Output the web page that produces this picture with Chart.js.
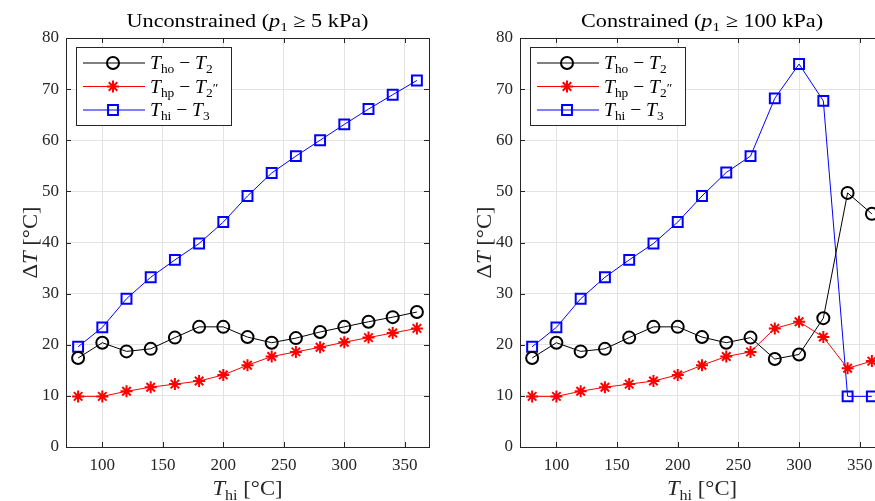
<!DOCTYPE html>
<html>
<head>
<meta charset="utf-8">
<script src="https://cdn.jsdelivr.net/npm/chart.js@4.4.1/dist/chart.umd.min.js"></script>
<style>
  html, body { margin: 0; padding: 0; background: #fff; overflow: hidden; }
  #wrap { position: relative; width: 875px; height: 501px; overflow: hidden; }
  canvas { position: absolute; top: 0; }
  #left { left: 0; }
  #right { left: 454px; }
</style>
</head>
<body>
<div id="wrap">
  <canvas id="left" width="450" height="501"></canvas>
  <canvas id="right" width="450" height="501"></canvas>
</div>
<script>
// x values (T_hi, degC)
const tHi = [80, 100, 120, 140, 160, 180, 200, 220, 240, 260, 280, 300, 320, 340, 360];
const xTicks = [100, 150, 200, 250, 300, 350];
const yTicks = [0, 10, 20, 30, 40, 50, 60, 70, 80];

// Unconstrained (p1 >= 5 kPa)
const hoUncon = [17.4, 20.4, 18.7, 19.2, 21.4, 23.5, 23.5, 21.5, 20.4, 21.3, 22.5, 23.5, 24.5, 25.4, 26.4];
const hpUncon = [9.9, 9.9, 10.9, 11.7, 12.3, 12.9, 14.1, 16.0, 17.7, 18.6, 19.5, 20.5, 21.4, 22.3, 23.2];
const hiUncon = [19.6, 23.4, 29.0, 33.2, 36.6, 39.8, 44.0, 49.1, 53.6, 56.9, 60.0, 63.1, 66.1, 68.9, 71.7];

// Constrained (p1 >= 100 kPa)
const hoCon = [17.4, 20.4, 18.7, 19.2, 21.4, 23.5, 23.5, 21.5, 20.4, 21.4, 17.2, 18.1, 25.2, 49.7, 45.6];
const hpCon = [9.9, 9.9, 10.9, 11.7, 12.3, 12.9, 14.1, 16.0, 17.7, 18.6, 23.2, 24.5, 21.5, 15.4, 16.8];
const hiCon = [19.6, 23.4, 29.0, 33.2, 36.6, 39.8, 44.0, 49.1, 53.7, 56.9, 68.2, 74.9, 67.7, 9.9, 9.9];

const SERIF = '"Liberation Serif", "DejaVu Serif", serif';
const AX = '#262626';
const GRID = '#e3e3e3';

// draws math-ish text: parts = [text, kind]  n normal, i italic, s subscript, p prime on subscript
function drawRich(ctx, parts, x, y, size, align, hs) {
  hs = hs || 1;
  const fontFor = k => (k === 'i' ? 'italic ' : '') + (k === 's' || k === 'p' ? Math.round(size * 0.7) : size) + 'px ' + SERIF;
  let w = 0;
  parts.forEach(p => { ctx.font = fontFor(p[1]); w += ctx.measureText(p[0]).width; });
  ctx.save();
  ctx.translate(x, y);
  ctx.scale(hs, 1);
  let cx = align === 'center' ? -w / 2 : 0;
  ctx.textAlign = 'left';
  ctx.textBaseline = 'alphabetic';
  parts.forEach(p => {
    ctx.font = fontFor(p[1]);
    const dy = p[1] === 's' ? size * 0.22 : (p[1] === 'p' ? -size * 0.02 : 0);
    ctx.fillText(p[0], cx, dy);
    cx += ctx.measureText(p[0]).width;
  });
  ctx.restore();
}

function marker(ctx, style, x, y, r) {
  ctx.beginPath();
  if (style === 'circle') {
    ctx.arc(x, y, r, 0, 2 * Math.PI);
  } else if (style === 'rect') {
    const s = r * Math.SQRT1_2;
    ctx.rect(x - s, y - s, 2 * s, 2 * s);
  } else {
    for (let k = 0; k < 4; k++) {
      const a = k * Math.PI / 4;
      ctx.moveTo(x - Math.cos(a) * r, y - Math.sin(a) * r);
      ctx.lineTo(x + Math.cos(a) * r, y + Math.sin(a) * r);
    }
  }
  ctx.stroke();
}

const legendParts = [
  [['T', 'i'], ['ho', 's'], [' \u2212 ', 'n'], ['T', 'i'], ['2', 's']],
  [['T', 'i'], ['hp', 's'], [' \u2212 ', 'n'], ['T', 'i'], ['2', 's'], ['\u2033', 'p']],
  [['T', 'i'], ['hi', 's'], [' \u2212 ', 'n'], ['T', 'i'], ['3', 's']]
];

function deco(titleParts) {
  return {
    id: 'deco',
    afterDraw(chart) {
      const ctx = chart.ctx;
      const ca = chart.chartArea;
      const xs = chart.scales.x, ys = chart.scales.y;
      ctx.save();
      // box
      ctx.strokeStyle = AX;
      ctx.lineWidth = 1;
      ctx.strokeRect(Math.round(ca.left) + 0.5, Math.round(ca.top) + 0.5, Math.round(ca.right - ca.left), Math.round(ca.bottom - ca.top));
      // inward ticks
      ctx.beginPath();
      xTicks.forEach(v => {
        const px = Math.round(xs.getPixelForValue(v)) + 0.5;
        ctx.moveTo(px, ca.bottom); ctx.lineTo(px, ca.bottom - 5);
        ctx.moveTo(px, ca.top); ctx.lineTo(px, ca.top + 5);
      });
      yTicks.forEach(v => {
        const py = Math.round(ys.getPixelForValue(v)) + 0.5;
        ctx.moveTo(ca.left, py); ctx.lineTo(ca.left + 5, py);
        ctx.moveTo(ca.right, py); ctx.lineTo(ca.right - 5, py);
      });
      ctx.stroke();

      // title
      ctx.fillStyle = '#000';
      drawRich(ctx, titleParts, (ca.left + ca.right) / 2, 27, 19, 'center', 1.17);

      // axis titles
      ctx.fillStyle = AX;
      drawRich(ctx, [['T', 'i'], ['hi', 's'], [' [\u00b0C]', 'n']], (ca.left + ca.right) / 2, 495, 21, 'center', 1.08);
      ctx.save();
      ctx.translate(ca.left - 29, (ca.top + ca.bottom) / 2);
      ctx.rotate(-Math.PI / 2);
      drawRich(ctx, [['\u0394', 'n'], ['T', 'i'], [' [\u00b0C]', 'n']], 0, 0, 21, 'center', 1.08);
      ctx.restore();

      // legend
      const L = Math.round(ca.left) + 10, T = Math.round(ca.top) + 9, W = 155, H = 78;
      ctx.fillStyle = '#fff';
      ctx.fillRect(L, T, W, H);
      ctx.strokeStyle = AX;
      ctx.strokeRect(L + 0.5, T + 0.5, W, H);
      chart.data.datasets.forEach((ds, i) => {
        const cy = T + 16 + i * 23.5;
        ctx.strokeStyle = ds.borderColor;
        ctx.lineWidth = 1;
        ctx.beginPath();
        ctx.moveTo(L + 7, cy); ctx.lineTo(L + 69, cy);
        ctx.stroke();
        ctx.lineWidth = ds.pointBorderWidth;
        marker(ctx, ds.pointStyle, L + 37, cy, ds.pointRadius);
        ctx.fillStyle = '#000';
        drawRich(ctx, legendParts[i], L + 74, cy + 6, 19, 'left', 1.03);
      });
      ctx.restore();
    }
  };
}

function series(vals, color, style, r) {
  return {
    data: tHi.map((x, i) => ({ x: x, y: vals[i] })),
    borderColor: color,
    borderWidth: 1,
    pointStyle: style,
    pointRadius: r,
    pointBorderWidth: 2,
    pointBorderColor: color,
    pointBackgroundColor: 'rgba(0,0,0,0)',
    fill: false,
    tension: 0
  };
}

function makeChart(id, titleParts, ho, hp, hi, padRight) {
  const ctx = document.getElementById(id).getContext('2d');
  return new Chart(ctx, {
    type: 'line',
    data: {
      datasets: [
        series(ho, '#000000', 'circle', 6),
        series(hp, '#ff0000', 'star', 6),
        series(hi, '#0000ff', 'rect', 7)
      ]
    },
    options: {
      responsive: false,
      animation: false,
      devicePixelRatio: 1,
      layout: { padding: { left: 0, right: padRight, top: 38, bottom: 0 } },
      plugins: { legend: { display: false }, tooltip: { enabled: false }, title: { display: false } },
      scales: {
        x: {
          type: 'linear', min: 70, max: 370,
          afterBuildTicks: s => { s.ticks = xTicks.map(v => ({ value: v })); },
          afterFit: s => { s.height = 54; },
          grid: { color: GRID, drawTicks: false },
          border: { display: false },
          ticks: { font: { family: SERIF, size: 17 }, color: AX, padding: 8, maxRotation: 0, autoSkip: false }
        },
        y: {
          min: 0, max: 80,
          afterBuildTicks: s => { s.ticks = yTicks.map(v => ({ value: v })); },
          afterFit: s => { s.width = 66; },
          grid: { color: GRID, drawTicks: false },
          border: { display: false },
          ticks: { font: { family: SERIF, size: 17 }, color: AX, padding: 7, autoSkip: false }
        }
      }
    },
    plugins: [deco(titleParts)]
  });
}

makeChart('left', [['Unconstrained (', 'n'], ['p', 'i'], ['1', 's'], [' \u2265 5 kPa)', 'n']], hoUncon, hpUncon, hiUncon, 21);
makeChart('right', [['Constrained (', 'n'], ['p', 'i'], ['1', 's'], [' \u2265 100 kPa)', 'n']], hoCon, hpCon, hiCon, 20);
</script>
</body>
</html>
